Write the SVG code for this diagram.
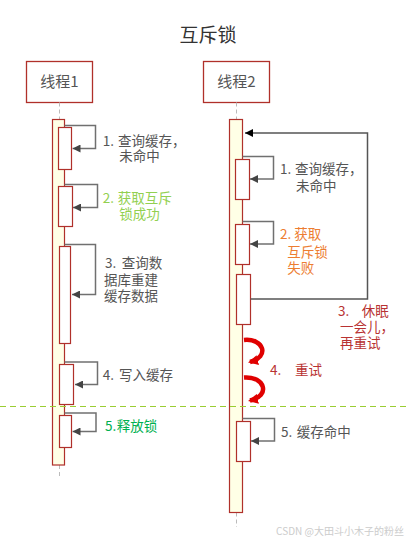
<svg xmlns="http://www.w3.org/2000/svg" width="408" height="543" viewBox="0 0 408 543">
<style>
  text { font-family: "Noto Sans CJK SC", "Noto Sans", sans-serif; }
  .title { font-size: 19px; fill: #333; }
  .head { fill: #fff; stroke: #B0302A; stroke-width: 1.3; }
  .headt { font-size: 15px; fill: #555; }
  .life { stroke: #bbb; stroke-width: 1; stroke-dasharray: 4,3; fill: none; }
  .bar { fill: #FFFFE6; stroke: #B0302A; stroke-width: 1.2; }
  .act { fill: #fff; stroke: #B0302A; stroke-width: 1.2; }
  .self { fill: none; stroke: #707070; stroke-width: 1.5; marker-end: url(#arr); }
  .loop { fill: none; stroke: #555; stroke-width: 1.5; marker-end: url(#arrb); }
  .red { fill: none; stroke: #E00000; stroke-width: 4.5; stroke-linecap: butt; marker-end: url(#arrr); }
  .lbl { font-size: 13.5px; fill: #555; }
  .g2 { fill: #92D050; }
  .g5 { fill: #00B050; }
  .or { fill: #ED7D31; }
  .dr { fill: #B83232; }
  .sep { stroke: #9ACD32; stroke-width: 1; stroke-dasharray: 6,4; }
  .wm { font-size: 10px; fill: #ccc; }
</style>
<defs>
  <marker id="arr" viewBox="0 0 10 10" refX="10" refY="5" markerWidth="8" markerHeight="8" markerUnits="userSpaceOnUse" orient="auto">
    <path d="M0,0 L10,5 L0,10 z" fill="#444"/>
  </marker>
  <marker id="arrb" viewBox="0 0 10 10" refX="10" refY="5" markerWidth="9" markerHeight="8" markerUnits="userSpaceOnUse" orient="auto">
    <path d="M0,0 L10,5 L0,10 z" fill="#000"/>
  </marker>
  <marker id="arrr" viewBox="0 0 10 10" refX="8" refY="5" markerWidth="10" markerHeight="10" markerUnits="userSpaceOnUse" orient="auto">
    <path d="M0,0 L10,5 L0,10 z" fill="#E00000"/>
  </marker>
</defs>

<text class="title" x="208" y="42" text-anchor="middle">互斥锁</text>

<g id="thread1">
  <rect class="head" x="26.5" y="61.5" width="66" height="41"/>
  <text class="headt" x="59.5" y="87" text-anchor="middle">线程1</text>
  <line class="life" x1="59.5" y1="102.5" x2="59.5" y2="119"/>
  <line class="life" x1="59.5" y1="465" x2="59.5" y2="479"/>
  <rect class="bar" x="52.5" y="119.5" width="12" height="345.5"/>
</g>

<g id="thread2">
  <rect class="head" x="203.5" y="61.5" width="66" height="41"/>
  <text class="headt" x="236.5" y="87" text-anchor="middle">线程2</text>
  <line class="life" x1="236.5" y1="102.5" x2="236.5" y2="119"/>
  <line class="life" x1="236.5" y1="512.5" x2="236.5" y2="527"/>
  <rect class="bar" x="229.5" y="119.5" width="13" height="393"/>
</g>

<g id="t1-act1"><rect class="act" x="58.5" y="127.5" width="13" height="42"/></g>
<g id="t1-act2"><rect class="act" x="58.5" y="186.5" width="14" height="40"/></g>
<g id="t1-act3"><rect class="act" x="59.5" y="246.5" width="11" height="97"/></g>
<g id="t1-act4"><rect class="act" x="59.5" y="364.5" width="14" height="40"/></g>
<g id="t1-act5"><rect class="act" x="59.5" y="415.5" width="12" height="32"/></g>

<g id="t2-act1"><rect class="act" x="235.5" y="159.5" width="14" height="40"/></g>
<g id="t2-act2"><rect class="act" x="235.5" y="224.5" width="14" height="40"/></g>
<g id="t2-act3"><rect class="act" x="236.5" y="274.5" width="14" height="50"/></g>
<g id="t2-act4"><rect class="act" x="236.5" y="421.5" width="14" height="40"/></g>

<line class="sep" x1="0" y1="406.5" x2="408" y2="406.5"/>

<g id="connectors">
  <path class="self" d="M64.5,125.5 H95.5 V148.5 H72.5"/>
  <path class="self" d="M64.5,184.5 H97.5 V207.5 H73"/>
  <path class="self" d="M64.5,244.5 H95.5 V294.5 H72"/>
  <path class="self" d="M64.5,362 H97.5 V384.5 H75"/>
  <path class="self" d="M64.5,413 H96 V431.5 H72.5"/>
  <path class="self" d="M242.5,156.5 H273.5 V179 H250"/>
  <path class="self" d="M242.5,221.5 H273.5 V244 H250"/>
  <path class="self" d="M242.5,418.5 H274.5 V441 H251"/>
  <path class="loop" d="M250.5,299 H367.5 V133 H245"/>
  <path class="red" d="M244,340 C264,338 270,357 250,362"/>
  <path class="red" d="M244,377.5 C265,376 271,396 250,400.5"/>
</g>

<g id="labels">
  <text class="lbl" y="145.7"><tspan x="102.7">1.</tspan><tspan x="118">查询缓存，</tspan><tspan x="119.3" y="161">未命中</tspan></text>
  <text class="lbl g2" y="202.7"><tspan x="102.7">2.</tspan><tspan x="117.7">获取互斥</tspan><tspan x="119.3" y="219">锁成功</tspan></text>
  <text class="lbl" y="267.7"><tspan x="105">3.</tspan><tspan x="121.7">查询数</tspan><tspan x="104" y="285">据库重建</tspan><tspan x="104" y="301">缓存数据</tspan></text>
  <text class="lbl" y="380"><tspan x="102.7">4.</tspan><tspan x="119">写入缓存</tspan></text>
  <text class="lbl g5" y="430.7"><tspan x="105">5.</tspan><tspan x="116.7">释放锁</tspan></text>

  <text class="lbl" y="174"><tspan x="280">1.</tspan><tspan x="295">查询缓存，</tspan><tspan x="296" y="190.7">未命中</tspan></text>
  <text class="lbl or" y="239.3"><tspan x="280">2.</tspan><tspan x="294.3">获取</tspan><tspan x="287.3" y="256.7">互斥锁</tspan><tspan x="287.3" y="273.3">失败</tspan></text>
  <text class="lbl dr" y="315.7"><tspan x="338">3.</tspan><tspan x="361.7">休眠</tspan><tspan x="340" y="331.7">一会儿，</tspan><tspan x="340" y="348.3">再重试</tspan></text>
  <text class="lbl dr" y="375"><tspan x="270">4.</tspan><tspan x="295">重试</tspan></text>
  <text class="lbl" y="436.7"><tspan x="281">5.</tspan><tspan x="296.7">缓存命中</tspan></text>
</g>

<text class="wm" x="404" y="535" text-anchor="end">CSDN @大田斗小木子的粉丝</text>
</svg>
